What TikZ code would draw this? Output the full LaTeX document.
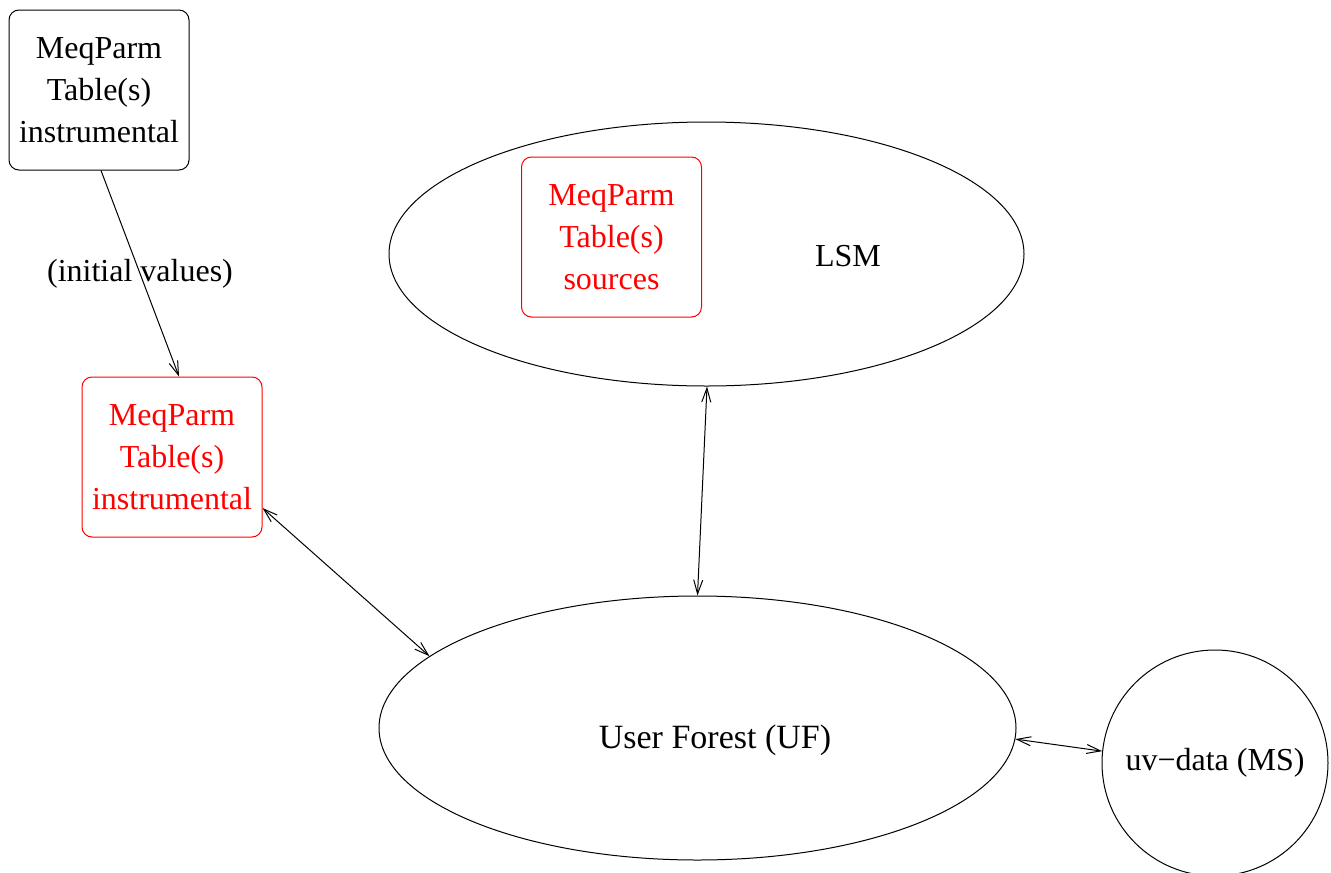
\documentclass[tikz,border=0pt]{standalone}
\usepackage{fontspec}
\setmainfont{Liberation Serif}
\usetikzlibrary{shapes.geometric}
\usetikzlibrary{arrows.meta}
\definecolor{tabrot}{RGB}{255,0,0}

\tikzset{
    tabelle/.style={draw, rounded corners=10pt, minimum width=180pt, minimum height=160pt, align=center, inner sep=0pt},
    pfeil/.style={{Straight Barb[length=14pt,width=9pt]}-{Straight Barb[length=14pt,width=9pt]}},
}

\begin{document}
\begin{tikzpicture}[x=1pt, y=-1pt, line width=1pt, font=\fontsize{32}{42}\selectfont]

    \useasboundingbox (0,0) rectangle (1331,873);

    % Tabellen
    \node[tabelle] (instr) at (99,90) {MeqParm\\Table(s)\\instrumental};
    \node[tabelle, tabrot] (instrUF) at (172,457) {MeqParm\\Table(s)\\instrumental};

    % LSM und User Forest
    \node[draw, ellipse, minimum width=635pt, minimum height=264pt] (lsm) at (706.5,254) {};
    \node[tabelle, tabrot] (src) at (611.5,237) {MeqParm\\Table(s)\\sources};
    \node (lsmtext) at (848,256) {LSM};

    \node[draw, ellipse, minimum width=637pt, minimum height=264pt] (uf) at (697.5,728) {};
    \node[font=\fontsize{34}{42}\selectfont] (uftext) at (715,740) {User Forest (UF)};
    \node[draw, circle, minimum size=226pt, inner sep=0pt] (ms) at (1215,763) {uv−data (MS)};

    % Pfeile
    \draw[-{Straight Barb[length=14pt,width=9pt]}] ([xshift=2pt]instr.south) -- node {(initial values)} ([xshift=7pt]instrUF.north);
    \draw[pfeil] ([yshift=-51pt]instrUF.east) -- (uf.165.7);
    \draw[pfeil] ([xshift=0.5pt]lsm.south) -- (uf.north);
    \draw[pfeil] (uf.-2.5) -- (ms.174.4);

\end{tikzpicture}
\end{document}
